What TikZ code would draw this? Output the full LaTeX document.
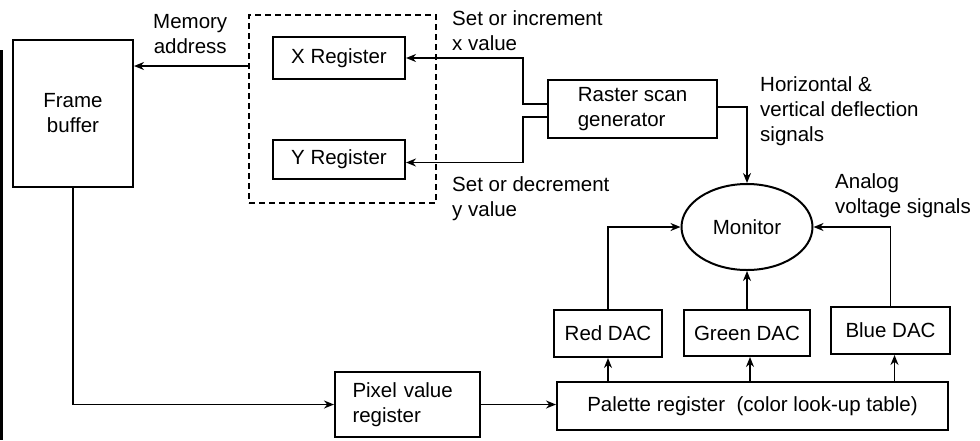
\documentclass[tikz,border=0pt]{standalone}
\usepackage{fontspec}
\setmainfont{Liberation Sans}
\usetikzlibrary{shapes.geometric,arrows.meta}
\begin{document}
\begin{tikzpicture}[x=1pt,y=-1pt,
  every node/.style={font=\fontsize{20.5}{25}\selectfont},
  blk/.style={draw,line width=2pt,inner sep=0pt,align=center},
  lbl/.style={inner sep=0pt,anchor=north west,align=left},
  arr/.style={line width=1.8pt,-{Stealth[length=10pt,width=8pt]}}]
\useasboundingbox (0,0) rectangle (980,440);
% edge strip on the left
\fill (0,50) rectangle (3,440);

% blocks
\node[blk,minimum width=120,minimum height=147] (fb) at (73,113.5) {Frame\\buffer};
\node[draw,dashed,line width=1.4pt,dash pattern=on 6pt off 4pt,minimum width=187,minimum height=188,inner sep=0pt] (regs) at (342.5,109) {};
\node[blk,minimum width=132,minimum height=42] (xr) at (339,58) {X Register};
\node[blk,minimum width=132,minimum height=39] (yr) at (339,159.5) {Y Register};
\node[blk,minimum width=169,minimum height=58,align=left] (rsg) at (632.5,109) {Raster scan\\generator};
\node[draw,ellipse,line width=2pt,minimum width=131,minimum height=86,inner sep=0pt] (mon) at (747,227) {Monitor};
\node[blk,minimum width=108,minimum height=47] (rd) at (608,333.5) {Red DAC};
\node[blk,minimum width=126,minimum height=46] (gd) at (747,333) {Green DAC};
\node[blk,minimum width=119,minimum height=47] (bd) at (890.5,330.5) {Blue DAC};
\node[blk,minimum width=391,minimum height=48] (pal) at (752.5,406) {Palette register\ \ (color look-up table)};
\node[blk,minimum width=145,minimum height=65,align=left,text width=110] (pv) at (407.5,404.5) {Pixel value\\register};

% labels
\node[lbl,align=center] (lma) at (153,14) {Memory\\address};
\node[lbl] (lx) at (452,10) {Set or increment\\x value};
\node[lbl] (ly) at (452,176) {Set or decrement\\y value};
\node[lbl] (lhv) at (760,76) {Horizontal \&\\vertical deflection\\signals};
\node[lbl] (lan) at (835,173) {Analog\\voltage signals};

% connectors
\coordinate (ma) at (249,66);
\draw[arr] (ma) -- (ma -| fb.east);
\draw[arr] ([yshift=5pt]rsg.west) -- ++(-24,0) |- (xr.east);
\draw[arr] ([yshift=-8pt]rsg.west) -- ++(-24,0) |- ([yshift=-3pt]yr.east);
\draw[arr] ([yshift=2pt]rsg.east) -| (mon.north);
\draw[arr] (rd.north) |- (mon.west);
\draw[arr] (bd.north) |- (mon.east);
\draw[arr] (gd.north) -- (mon.south);
\draw[arr] (rd.south |- pal.north) -- (rd.south);
\draw[arr] ([xshift=3pt]gd.south |- pal.north) -- ([xshift=3pt]gd.south);
\draw[arr] ([xshift=4pt]bd.south |- pal.north) -- ([xshift=4pt]bd.south);
\draw[arr] (fb.south) |- (pv.west);
\draw[arr] (pv.east) -- (pv.east -| pal.west);
\end{tikzpicture}
\end{document}
